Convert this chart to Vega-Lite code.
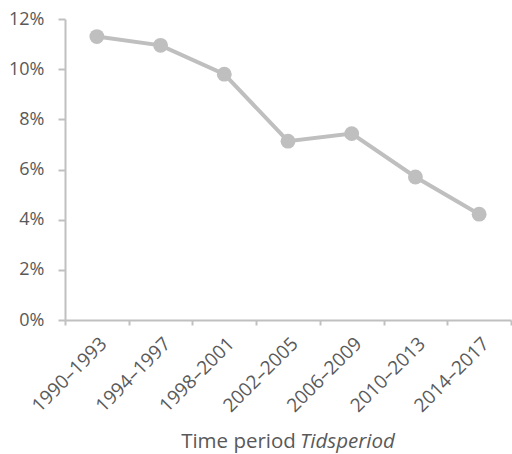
{
  "$schema": "https://vega.github.io/schema/vega-lite/v6.json",
  "width": 446,
  "height": 301,
  "autosize": {"type": "none"},
  "padding": {"left": 65, "top": 19, "right": 1, "bottom": 134},
  "config": {
    "view": {"stroke": null},
    "font": "Open Sans",
    "axis": {
      "domainColor": "#c0c0c0",
      "domainWidth": 2,
      "tickColor": "#c0c0c0",
      "tickWidth": 2,
      "labelColor": "#595959",
      "labelFont": "Open Sans",
      "labelFontSize": 18,
      "titleColor": "#595959",
      "titleFont": "Open Sans",
      "titleFontSize": 20.5,
      "titleFontWeight": "normal",
      "grid": false
    }
  },
  "data": {
    "values": [
      {"period": "1990–1993", "share": 0.113},
      {"period": "1994–1997", "share": 0.1095},
      {"period": "1998–2001", "share": 0.098},
      {"period": "2002–2005", "share": 0.0713},
      {"period": "2006–2009", "share": 0.0743},
      {"period": "2010–2013", "share": 0.057},
      {"period": "2014–2017", "share": 0.0422}
    ]
  },
  "resolve": {"axis": {"x": "independent"}},
  "layer": [
    {
      "mark": {"type": "line", "color": "#bfbfbf", "strokeWidth": 4},
      "encoding": {
        "x": {
          "field": "period", "type": "nominal", "sort": null,
          "scale": {"type": "band", "paddingInner": 0, "paddingOuter": 0},
          "axis": {
            "title": "Time period",
            "titleX": 173, "titleY": 127, "titleAlign": "center", "titleBaseline": "alphabetic",
            "labelAngle": -45, "labelFontSize": 19, "tickBand": "extent", "tickSize": 5, "labelPadding": 9
          }
        },
        "y": {
          "field": "share", "type": "quantitative",
          "scale": {"domain": [0, 0.12]},
          "axis": {
            "title": null, "format": ".0%", "values": [0, 0.02, 0.04, 0.06, 0.08, 0.1, 0.12],
            "tickSize": 7, "labelPadding": 14
          }
        }
      }
    },
    {
      "mark": {"type": "point", "filled": true, "color": "#bfbfbf", "size": 220, "opacity": 1},
      "encoding": {
        "x": {
          "field": "period", "type": "nominal", "sort": null,
          "axis": {
            "orient": "bottom",
            "title": "Tidsperiod", "titleFontStyle": "italic",
            "titleX": 282, "titleY": 127, "titleAlign": "center", "titleBaseline": "alphabetic",
            "labels": false, "ticks": false, "domain": false
          }
        },
        "y": {"field": "share", "type": "quantitative"}
      }
    }
  ]
}
